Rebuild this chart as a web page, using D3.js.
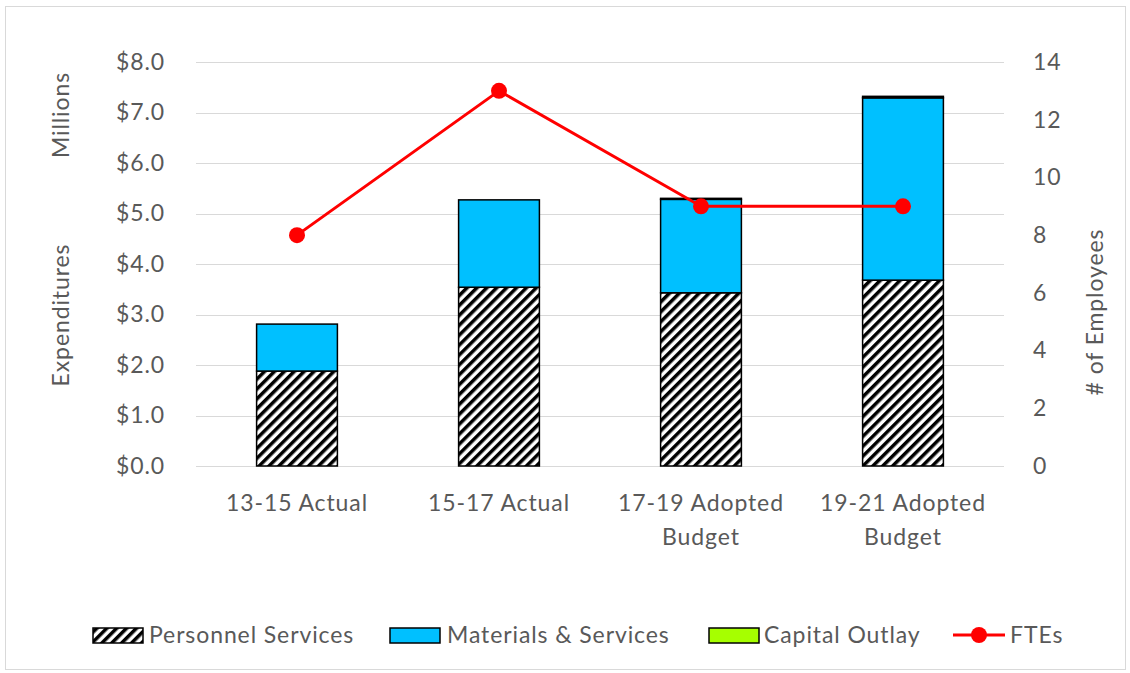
<!DOCTYPE html>
<html><head><meta charset="utf-8">
<script src="https://cdn.jsdelivr.net/npm/d3@7"></script>
<style>body{margin:0;background:#fff}svg text{font-family:Lato,"Open Sans",sans-serif;fill:#595959;letter-spacing:0.9px}</style>
</head><body><svg id="c" width="1130" height="673"></svg>
<script>
const categories = [["13-15 Actual"],["15-17 Actual"],["17-19 Adopted","Budget"],["19-21 Adopted","Budget"]];
const catKeys = ["13-15 Actual","15-17 Actual","17-19 Adopted Budget","19-21 Adopted Budget"];
const personnel = [1.88, 3.54, 3.43, 3.68];
const materials = [0.93, 1.73, 1.85, 3.61];
const capital = [0.0, 0.0, 0.02, 0.03];
const ftes = [8, 13, 9, 9];
const leftTicks = [0,1,2,3,4,5,6,7,8];
const rightTicks = [0,2,4,6,8,10,12,14];

const FS = 23;
const svg = d3.select("#c");
svg.append("rect").attr("x",5.5).attr("y",6.5).attr("width",1120).attr("height",663).attr("fill","#fff").attr("stroke","#d9d9d9");
const defs = svg.append("defs");
const pat = defs.append("pattern").attr("id","hatch").attr("patternUnits","userSpaceOnUse")
  .attr("width",7).attr("height",7).attr("patternTransform","rotate(45)");
pat.append("rect").attr("width",7).attr("height",7).attr("fill","#fff");
pat.append("rect").attr("width",3.5).attr("height",7).attr("fill","#000");

const x0 = 196, x1 = 1004, yTop = 62, yBot = 466;
const x = d3.scaleBand().domain(catKeys).range([x0,x1]).paddingInner(0.6).paddingOuter(0.3);
const y = d3.scaleLinear().domain([0,8]).range([yBot,yTop]);
const y2 = d3.scaleLinear().domain([0,14]).range([yBot,yTop]);

// gridlines
svg.append("g").selectAll("line").data(leftTicks).join("line")
  .attr("x1",x0).attr("x2",x1).attr("y1",d=>Math.round(y(d))+0.5).attr("y2",d=>Math.round(y(d))+0.5)
  .attr("stroke","#d9d9d9").attr("stroke-width",1);

// left axis labels
const lAxis = d3.axisLeft(y).tickValues(leftTicks).tickFormat(d=>"$"+d3.format(".1f")(d)).tickSize(0).tickPadding(0);
const gl = svg.append("g").attr("transform",`translate(165,0)`).call(lAxis);
gl.select(".domain").remove();
gl.selectAll("text").attr("font-size",FS).attr("fill","#595959").style("font-family","Lato, 'Open Sans', sans-serif");

const rAxis = d3.axisRight(y2).tickValues(rightTicks).tickSize(0).tickPadding(0);
const gr = svg.append("g").attr("transform",`translate(1033,0)`).call(rAxis);
gr.select(".domain").remove();
gr.selectAll("text").attr("font-size",FS).attr("fill","#595959").style("font-family","Lato, 'Open Sans', sans-serif");

// stacked bars
const stackData = catKeys.map((k,i)=>({k, p:personnel[i], m:materials[i], c:capital[i]}));
const stack = d3.stack().keys(["p","m","c"])(stackData);
const fills = {p:"url(#hatch)", m:"#00c0ff", c:"#a6ff00"};
stack.forEach(s=>{
  svg.append("g").selectAll("rect").data(s.filter(d=>d[1]-d[0]>0)).join("rect")
    .attr("x",d=>x(d.data.k)).attr("width",x.bandwidth())
    .attr("y",d=>y(d[1])).attr("height",d=>y(d[0])-y(d[1]))
    .attr("fill",fills[s.key]).attr("stroke","#000").attr("stroke-width",1.5);
});

// category labels
const cl = svg.append("g");
categories.forEach((lines,i)=>{
  const t = cl.append("text").attr("x",x(catKeys[i])+x.bandwidth()/2).attr("y",511)
    .attr("text-anchor","middle").attr("font-size",FS);
  lines.forEach((ln,j)=>t.append("tspan").attr("x",x(catKeys[i])+x.bandwidth()/2).attr("dy",j?34:0).text(ln));
});

// FTE line
const cx = k=>x(k)+x.bandwidth()/2;
svg.append("path").datum(ftes).attr("fill","none").attr("stroke","#ff0000").attr("stroke-width",3)
  .attr("stroke-linejoin","round")
  .attr("d",d3.line().x((d,i)=>cx(catKeys[i])).y(d=>y2(d)));
svg.append("g").selectAll("circle").data(ftes).join("circle")
  .attr("cx",(d,i)=>cx(catKeys[i])).attr("cy",d=>y2(d)).attr("r",8).attr("fill","#ff0000");

// axis titles
svg.append("text").attr("transform","translate(69,115) rotate(-90)").attr("text-anchor","middle").attr("font-size",FS).text("Millions");
svg.append("text").attr("transform","translate(69,315) rotate(-90)").attr("text-anchor","middle").attr("font-size",FS).text("Expenditures");
svg.append("text").attr("transform","translate(1103,312) rotate(-90)").attr("text-anchor","middle").attr("font-size",FS).text("# of Employees");

// legend
const lg = svg.append("g");
const items = [
  {label:"Personnel Services", fill:"url(#hatch)", sx:93, tx:149},
  {label:"Materials & Services", fill:"#00c0ff", sx:390, tx:447},
  {label:"Capital Outlay", fill:"#a6ff00", sx:709, tx:764}
];
const ly = 635;
items.forEach(it=>{
  lg.append("rect").attr("x",it.sx).attr("y",ly-7).attr("width",50).attr("height",15)
    .attr("fill",it.fill).attr("stroke","#000").attr("stroke-width",1.5);
  lg.append("text").attr("x",it.tx).attr("y",ly+8).attr("font-size",FS).text(it.label);
});
lg.append("line").attr("x1",953).attr("x2",1005).attr("y1",ly).attr("y2",ly).attr("stroke","#ff0000").attr("stroke-width",3);
lg.append("circle").attr("cx",979).attr("cy",ly).attr("r",8).attr("fill","#ff0000");
lg.append("text").attr("x",1010).attr("y",ly+8).attr("font-size",FS).text("FTEs");
</script></body></html>
